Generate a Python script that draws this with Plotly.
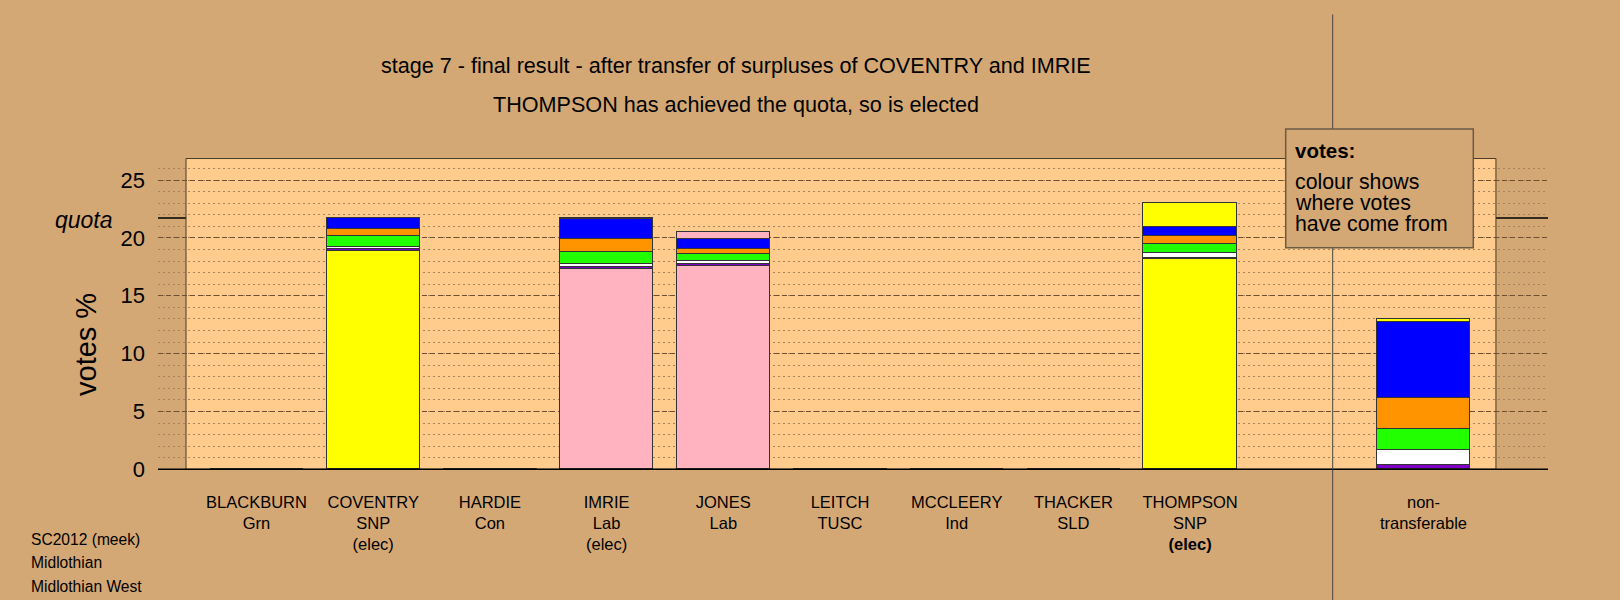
import plotly.graph_objects as go

# ---------------- data ----------------
candidates = ["BLACKBURN", "COVENTRY", "HARDIE", "IMRIE", "JONES",
              "LEITCH", "MCCLEERY", "THACKER", "THOMPSON", "non-"]
parties = ["Grn", "SNP", "Con", "Lab", "Lab", "TUSC", "Ind", "SLD", "SNP", "transferable"]
elected = ["", "(elec)", "", "(elec)", "", "", "", "", "<b>(elec)</b>", ""]
x_pos = [0, 1, 2, 3, 4, 5, 6, 7, 8, 10]

party_colours = {"Grn": "#22FF00", "SNP": "#FFFF00", "Con": "#0000FF", "Lab": "#FFB3C1",
                 "TUSC": "#8000C8", "Ind": "#FFFFFF", "SLD": "#FF9400", "transferable": "#FFFFFF"}

# votes % by origin (first preferences, then transfers in stage order)
own_votes      = [0, 18.85, 0, 17.30, 17.57, 0, 0, 0, 18.18, 0]
from_leitch    = [0, 0.15, 0, 0.22, 0.17, 0, 0, 0, 0.12, 0.37]
from_mccleery  = [0, 0.25, 0, 0.20, 0.26, 0, 0, 0, 0.40, 1.30]
from_blackburn = [0, 0.92, 0, 1.05, 0.58, 0, 0, 0, 0.81, 1.79]
from_thacker   = [0, 0.60, 0, 1.15, 0.46, 0, 0, 0, 0.63, 2.73]
from_hardie    = [0, 0.96, 0, 1.70, 0.86, 0, 0, 0, 0.80, 6.54]
from_coventry  = [0, 0, 0, 0.11, 0.04, 0, 0, 0, 2.07, 0.26]
from_imrie     = [0, 0, 0, 0, 0.54, 0, 0, 0, 0, 0]

quota = 21.73
y_ticks = [0, 5, 10, 15, 20, 25]

BG = "#D4A875"
PANEL = "#FFCC8E"
FONT = "Liberation Sans, Arial, sans-serif"

layers = [
    (own_votes, [party_colours[p] for p in parties]),
    (from_leitch, party_colours["TUSC"]),
    (from_mccleery, party_colours["Ind"]),
    (from_blackburn, party_colours["Grn"]),
    (from_thacker, party_colours["SLD"]),
    (from_hardie, party_colours["Con"]),
    (from_coventry, party_colours["SNP"]),
    (from_imrie, party_colours["Lab"]),
]

fig = go.Figure()
for vals, col in layers:
    fig.add_trace(go.Bar(x=x_pos, y=vals, width=0.8,
                         marker=dict(color=col, line=dict(color="#333333", width=1)),
                         showlegend=False, hoverinfo="skip"))

ticktext = [f"{c}<br>{p}" + (f"<br>{e}" if e else "") for c, p, e in zip(candidates, parties, elected)]

W, H = 1620, 600
L, R, T, B = 158, 72, 158, 130
pw, ph = W - L - R, H - T - B
def px(x):
    return (x - L) / pw
def py(y):
    return (H - B - y) / ph

fig.update_layout(
    width=W, height=H, autosize=False,
    margin=dict(l=L, r=R, t=T, b=B, pad=0),
    paper_bgcolor=BG, plot_bgcolor=BG,
    barmode="stack", bargap=0,
    font=dict(family=FONT, color="black"),
    xaxis=dict(range=[-0.844, 11.067], tickvals=x_pos, ticktext=ticktext,
               tickfont=dict(size=16.5), showgrid=False, zeroline=False,
               showline=False, ticks="", ticklabelstandoff=20),
    yaxis=dict(range=[-0.06, 26.906], tickvals=y_ticks, tickfont=dict(size=22),
               showgrid=True, gridcolor="#6E5030", gridwidth=1, griddash="5px,3px",
               zeroline=False, showline=False, ticks="", ticklabelstandoff=12,
               minor=dict(dtick=1, tick0=0, showgrid=True, gridcolor="#A88258",
                          gridwidth=1, griddash="2px,3px")),
)

shapes = [
    # panel
    dict(type="rect", xref="x", yref="y", x0=-0.604, x1=10.621, y0=0, y1=26.86,
         fillcolor=PANEL, line=dict(color="#4A3A28", width=1), layer="below"),
    # quota line
    dict(type="line", xref="paper", yref="y", x0=0, x1=1, y0=quota, y1=quota,
         line=dict(color="black", width=1.5), layer="between"),
    # baseline
    dict(type="line", xref="paper", yref="y", x0=0, x1=1, y0=0, y1=0,
         line=dict(color="black", width=1.5), layer="above"),
    # separator
    dict(type="line", xref="x", yref="paper", x0=9.222, x1=9.222,
         y0=py(600), y1=py(14.5), line=dict(color="#444444", width=1), layer="above"),
    # info box
    dict(type="rect", xref="paper", yref="paper", x0=px(1285.7), x1=px(1473.3),
         y0=py(247.7), y1=py(129), fillcolor=BG, line=dict(color="#6B5A45", width=1.5),
         layer="above"),
]
fig.update_layout(shapes=shapes)

ann = []
ann.append(dict(text="stage 7 - final result - after transfer of surpluses of COVENTRY and IMRIE",
                xref="paper", yref="paper", x=px(736), y=py(66), showarrow=False,
                xanchor="center", yanchor="middle", font=dict(size=21.6)))
ann.append(dict(text="THOMPSON has achieved the quota, so is elected",
                xref="paper", yref="paper", x=px(736), y=py(105), showarrow=False,
                xanchor="center", yanchor="middle", font=dict(size=21.6)))
ann.append(dict(text="<i>quota</i>", xref="paper", yref="y", x=px(115), y=quota,
                yshift=-2, showarrow=False, xanchor="right", yanchor="middle",
                font=dict(size=23)))
ann.append(dict(text="votes %", xref="paper", yref="paper", x=px(86), y=py(345),
                textangle=-90, showarrow=False, xanchor="center", yanchor="middle",
                font=dict(size=29)))
ann.append(dict(text="<b>votes:</b>", xref="paper", yref="paper", x=px(1293), y=py(150),
                showarrow=False, xanchor="left", yanchor="middle", font=dict(size=20.5)))
for i, line in enumerate(["colour shows", "where votes", "have come from"]):
    ann.append(dict(text=line, xref="paper", yref="paper", x=px(1293), y=py(182 + 21 * i),
                    showarrow=False, xanchor="left", yanchor="middle", font=dict(size=21.3)))
for i, line in enumerate(["SC2012 (meek)", "Midlothian", "Midlothian West"]):
    ann.append(dict(text=line, xref="paper", yref="paper", x=px(29), y=py(539 + 23.5 * i),
                    showarrow=False, xanchor="left", yanchor="middle", font=dict(size=15.6)))
fig.update_layout(annotations=ann)

fig.write_html("out.html", config={"displayModeBar": False},
               post_script="document.body.style.margin='0';document.body.style.padding='0';"
                           "document.body.style.background='" + BG + "';")
